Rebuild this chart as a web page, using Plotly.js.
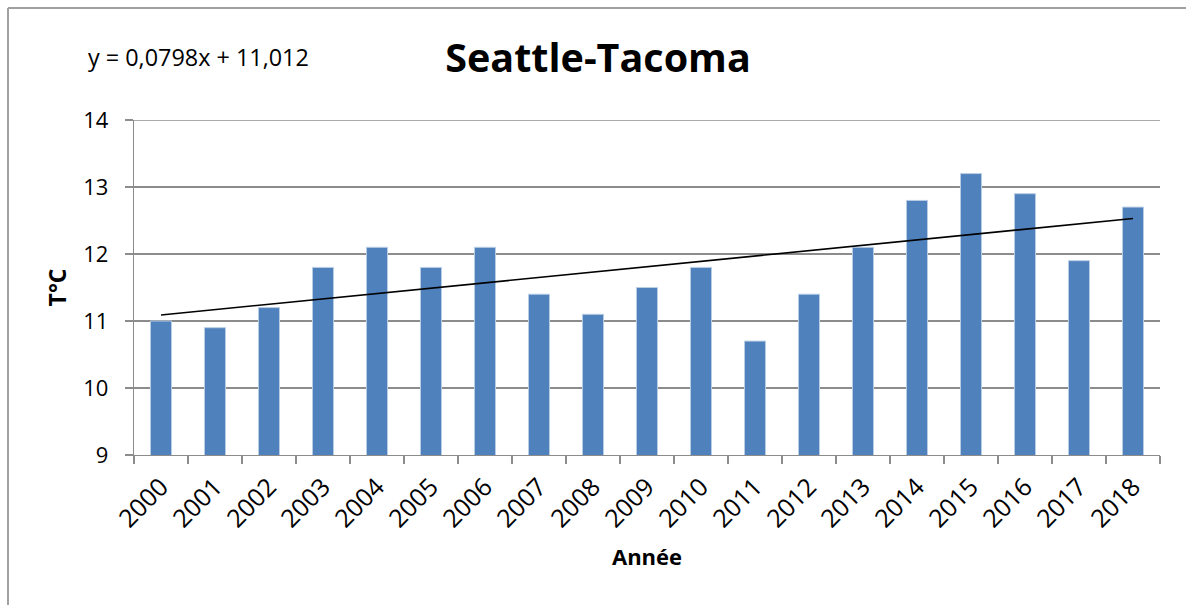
<!DOCTYPE html>
<html>
<head>
<meta charset="utf-8">
<script src="https://cdn.plot.ly/plotly-3.0.1.min.js"></script>
<style>html,body{margin:0;padding:0;background:#fff;}#chart{width:1186px;height:605px;}</style>
</head>
<body>
<div id="chart"></div>
<script>
// Data
var years = ['2000','2001','2002','2003','2004','2005','2006','2007','2008','2009','2010','2011','2012','2013','2014','2015','2016','2017','2018'];
var temps = [11.0, 10.9, 11.2, 11.8, 12.1, 11.8, 12.1, 11.4, 11.1, 11.5, 11.8, 10.7, 11.4, 12.1, 12.8, 13.2, 12.9, 11.9, 12.7];
var trendX = ['2000', '2018'];
var trendY = [11.09, 12.53];
var yTicks = [9, 10, 11, 12, 13, 14];
var chartTitle = 'Seattle-Tacoma';
var equation = 'y = 0,0798x + 11,012';
var xTitle = 'Année';
var yTitle = 'T°C';

var FONT = '"Open Sans", "Noto Sans", sans-serif';
var W = 1186, H = 605;
var L = 134, R = 1160, T = 120, B = 455;
function px(x){ return (x - L) / (R - L); }
function py(y){ return (B - y) / (B - T); }
var GRID = '#8C8C8C';

var traces = [
  {
    type: 'bar', x: years, y: temps,
    marker: {color: '#4F81BD', line: {color: '#B9CDE5', width: 1}},
    hoverinfo: 'x+y', showlegend: false
  },
  {
    type: 'scatter', mode: 'lines', x: trendX, y: trendY,
    line: {color: '#000000', width: 1.6}, showlegend: false, hoverinfo: 'skip'
  }
];

var layout = {
  width: W, height: H,
  margin: {l: L, r: W - R, t: T, b: H - B, pad: 0},
  paper_bgcolor: '#ffffff', plot_bgcolor: '#ffffff',
  bargap: 0.61,
  font: {family: FONT, color: '#000000', size: 22},
  title: {
    text: '<b>' + chartTitle + '</b>',
    font: {family: FONT, size: 39.5, color: '#000000'},
    xref: 'paper', x: px(598), xanchor: 'center',
    yref: 'container', y: 1 - 58 / H, yanchor: 'middle'
  },
  xaxis: {
    type: 'category',
    showgrid: false, zeroline: false,
    showline: true, linecolor: GRID, linewidth: 1.3,
    ticks: 'outside', tickson: 'boundaries', ticklen: 8, tickcolor: GRID, tickwidth: 1.3,
    tickangle: -45, tickfont: {family: FONT, size: 25, color: '#000'},
    ticklabelstandoff: 6,
    title: {text: '<b>' + xTitle + '</b>', font: {family: FONT, size: 22, color: '#000'}, standoff: 16},
    fixedrange: true
  },
  yaxis: {
    range: [9, 14], tickvals: yTicks, ticktext: yTicks.map(String),
    showgrid: true, gridcolor: GRID, gridwidth: 1.3, zeroline: false,
    showline: true, linecolor: GRID, linewidth: 1.3,
    ticks: 'outside', ticklen: 8, tickcolor: GRID, tickwidth: 1.3,
    tickfont: {family: FONT, size: 22, color: '#000'},
    ticklabelstandoff: 12,
    title: {text: '<b>' + yTitle + '</b>', font: {family: FONT, size: 23, color: '#000'}, standoff: 10},
    fixedrange: true
  },
  annotations: [
    {
      text: equation, showarrow: false,
      xref: 'paper', yref: 'paper', x: px(198), y: py(57),
      xanchor: 'center', yanchor: 'middle',
      font: {family: FONT, size: 23.4, color: '#000'}
    }
  ],
  shapes: [
    // top gridline (Plotly omits the grid line lying on the plot edge)
    {type: 'line', xref: 'paper', yref: 'y', x0: 0, x1: 1, y0: yTicks[yTicks.length - 1], y1: yTicks[yTicks.length - 1], line: {color: GRID, width: 1.3}, layer: 'below'},
    {type: 'line', xref: 'paper', yref: 'paper', x0: px(8), x1: px(1190), y0: py(8), y1: py(8), line: {color: '#A0A0A0', width: 2}},
    {type: 'line', xref: 'paper', yref: 'paper', x0: px(8), x1: px(8), y0: py(8), y1: py(610), line: {color: '#A0A0A0', width: 2}}
  ]
};

Plotly.newPlot('chart', traces, layout, {displayModeBar: false, staticPlot: true});
</script>
</body>
</html>
